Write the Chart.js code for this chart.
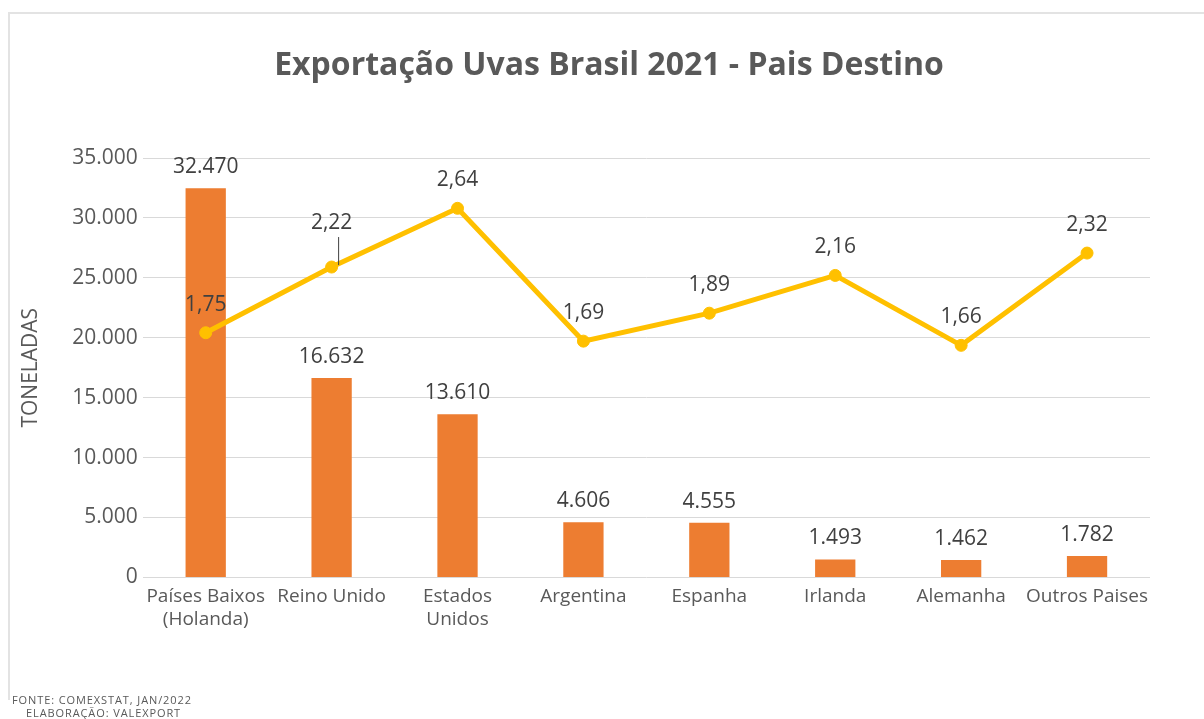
<!DOCTYPE html>
<html lang="pt-BR">
<head>
<meta charset="utf-8">
<title>Exportação Uvas Brasil 2021</title>
<script src="https://cdn.jsdelivr.net/npm/chart.js@4.4.1/dist/chart.umd.min.js"></script>
<style>
  html, body { margin: 0; padding: 0; background: #fff; }
  #wrap { position: relative; width: 1204px; height: 719px; overflow: hidden; }
  #frame {
    position: absolute; left: 8px; top: 12px; width: 1220px; height: 686px;
    border-left: 2px solid #e3e3e3; border-top: 2px solid #e3e3e3;
  }
  #chart { position: absolute; left: 0; top: 0; }
  #titulo {
    position: absolute; left: 209px; top: 42px; width: 800px; text-align: center;
    font-family: "Open Sans", sans-serif; font-weight: bold; font-size: 32px;
    line-height: 42px; color: #595959;
  }
  .fonte {
    position: absolute; font-family: "Open Sans", sans-serif; font-size: 11px;
    color: #595959; line-height: 13px; letter-spacing: 0.9px;
  }
</style>
</head>
<body>
<div id="wrap">
  <div id="frame"></div>
  <canvas id="chart" width="1204" height="719"></canvas>
  <div id="titulo">Exportação Uvas Brasil 2021 - Pais Destino</div>
  <div class="fonte" style="left:12px; top:693px;">FONTE: COMEXSTAT, JAN/2022</div>
  <div class="fonte" style="left:26px; top:706px;">ELABORAÇÃO: VALEXPORT</div>
</div>
<script>
// dados
const paises = [["Países Baixos", "(Holanda)"], "Reino Unido", ["Estados", "Unidos"], "Argentina",
  "Espanha", "Irlanda", "Alemanha", "Outros Paises"];
const toneladas = [32470, 16632, 13610, 4606, 4555, 1493, 1462, 1782];
const precos = [1.75, 2.22, 2.64, 1.69, 1.89, 2.16, 1.66, 2.32];
const yTicks = [0, 5000, 10000, 15000, 20000, 25000, 30000, 35000];

const fonte = "'Open Sans', sans-serif";

// 32470 -> "32.470"
const milhar = (n) => String(n).replace(/\B(?=(\d{3})+(?!\d))/g, ".");
const decimal = (n) => n.toFixed(2).replace(".", ",");

// rotulos de valor em cima das barras e dos pontos
const rotulos = {
  id: "rotulos",
  afterDatasetsDraw(chart) {
    const ctx = chart.ctx;
    ctx.save();
    ctx.font = "21px " + fonte;
    ctx.fillStyle = "#404040";
    ctx.textAlign = "center";
    ctx.textBaseline = "middle";
    chart.data.datasets.forEach((ds, i) => {
      const meta = chart.getDatasetMeta(i);
      meta.data.forEach((el, j) => {
        if (ds.type === "line") {
          let sobe = 28;
          if (j === 1) {
            // este rotulo fica mais alto, com linha guia
            sobe = 44;
            ctx.strokeStyle = "#404040";
            ctx.lineWidth = 1;
            ctx.beginPath();
            ctx.moveTo(el.x + 7, el.y - 30);
            ctx.lineTo(el.x + 7, el.y - 2);
            ctx.stroke();
          }
          ctx.fillText(decimal(ds.data[j]), el.x, el.y - sobe);
        } else {
          ctx.fillText(milhar(ds.data[j]), el.x, el.y - 21);
        }
      });
    });
    ctx.restore();
  }
};

new Chart(document.getElementById("chart"), {
  type: "bar",
  data: {
    labels: paises,
    datasets: [
      {
        type: "line",
        label: "Preço",
        data: precos,
        yAxisID: "y1",
        borderColor: "#FFC000",
        backgroundColor: "#FFC000",
        borderWidth: 5,
        pointRadius: 6,
        pointBorderWidth: 1,
        pointBorderColor: "#FFC000",
        order: 0
      },
      {
        type: "bar",
        label: "Toneladas",
        data: toneladas,
        yAxisID: "y",
        backgroundColor: "#ED7D31",
        categoryPercentage: 1,
        barPercentage: 0.32,
        order: 1
      }
    ]
  },
  options: {
    responsive: false,
    animation: false,
    layout: { padding: { left: 14, right: 54, top: 158, bottom: 88 } },
    plugins: {
      legend: { display: false },
      tooltip: { enabled: false },
      title: { display: false }
    },
    scales: {
      x: {
        grid: { display: false },
        border: { display: false },
        ticks: {
          color: "#595959",
          font: { family: fonte, size: 19 },
          padding: 0,
          maxRotation: 0,
          autoSkip: false
        }
      },
      y: {
        min: 0,
        max: 35000,
        afterBuildTicks: (axis) => { axis.ticks = yTicks.map((v) => ({ value: v })); },
        grid: { color: "#d9d9d9", lineWidth: 1, drawTicks: false },
        border: { display: false },
        ticks: {
          color: "#595959",
          font: { family: fonte, size: 21 },
          padding: 5,
          callback: (v) => milhar(v)
        },
        title: {
          display: true,
          text: "TONELADAS",
          color: "#595959",
          font: { family: fonte, size: 21 },
          padding: { top: 4, bottom: 24 }
        }
      },
      y1: {
        display: false,
        min: 0,
        max: 3
      }
    }
  },
  plugins: [rotulos]
});
</script>
</body>
</html>
